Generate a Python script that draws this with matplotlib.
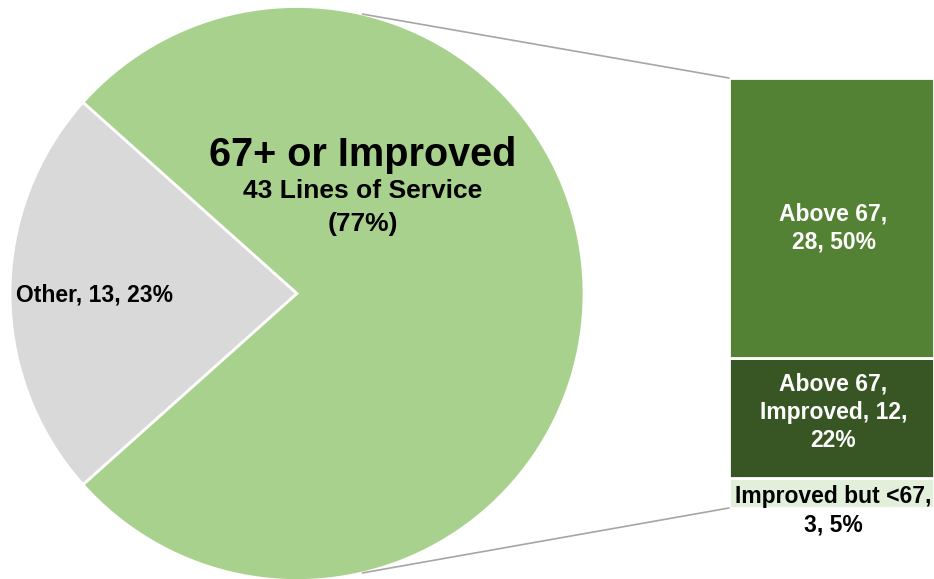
import matplotlib
matplotlib.use("Agg")
import matplotlib.pyplot as plt
from matplotlib.patches import ConnectionPatch
import numpy as np

plt.rcParams['font.family'] = ['Liberation Sans', 'DejaVu Sans']
plt.rcParams['font.weight'] = 'bold'

# pie data
pie_labels = ['Other', '67+ or Improved']
pie_values = [13, 43]
pie_colors = ['#D9D9D9', '#A9D18E']

# bar (breakdown of 67+ or Improved), bottom to top
bar_labels = ['Improved but <67', 'Above 67,\nImproved', 'Above 67']
bar_values = [3, 12, 28]
bar_pcts = [5, 22, 50]
bar_colors = ['#E2EFDA', '#375623', '#548235']
bar_text_colors = ['black', 'white', 'white']
# label templates ({n}=name, {v}=value, {p}=percent)
bar_fmt = ['{n},\n{v}, {p}%', '{n}, {v},\n{p}%', '{n},\n{v}, {p}%']

W, H = 934, 579
fig = plt.figure(figsize=(W / 100, H / 100), dpi=100)

# pie axes in pixel-like coords
ax = fig.add_axes([0, 0, 1, 1])
cx, cy, r = 297, H - 293.5, 287
frac_other = pie_values[0] / sum(pie_values)
start = 180 - 180 * frac_other
ax.pie(pie_values, colors=pie_colors, startangle=start, center=(cx, cy), radius=r,
       wedgeprops=dict(edgecolor='white', linewidth=2))
ax.set_xlim(0, W)
ax.set_ylim(0, H)
ax.set_aspect('equal')
ax.axis('off')

total = sum(pie_values)
ax.text(16, H - 295, f"{pie_labels[0]}, {pie_values[0]}, {round(100 * pie_values[0] / total)}%",
        ha='left', va='center', fontsize=16.5, fontweight='bold')
ax.text(363, H - 155, pie_labels[1], ha='center', va='center', fontsize=28.5, fontweight='bold')
ax.text(363, H - 191, f"{pie_values[1]} Lines of Service", ha='center', va='center',
        fontsize=19, fontweight='bold')
ax.text(363, H - 224, f"({round(100 * pie_values[1] / total)}%)", ha='center', va='center',
        fontsize=19, fontweight='bold')

# bar axes
bx0, bx1, by_top, by_bot = 729, 934, 78, 508
ax2 = fig.add_axes([bx0 / W, (H - by_bot) / H, (bx1 - bx0) / W, (by_bot - by_top) / H])
bottom = 0
offsets = [6, 4, -7]
for lab, v, p, c, tc, fmt, off in zip(bar_labels, bar_values, bar_pcts, bar_colors,
                                      bar_text_colors, bar_fmt, offsets):
    ax2.bar(0, v, bottom=bottom, width=1, color=c, edgecolor='white', linewidth=2)
    va = 'top' if v < 5 else 'center'
    ax2.annotate(fmt.format(n=lab, v=v, p=p),
                 xy=(0.01, bottom + v / 2), xytext=(0, off), textcoords='offset points',
                 ha='center', va=va, color=tc, fontsize=16.5, fontweight='bold',
                 linespacing=1.3, annotation_clip=False)
    bottom += v
ax2.set_xlim(-0.5, 0.5)
ax2.set_ylim(0, sum(bar_values))
ax2.axis('off')

# connection lines
theta = np.deg2rad(76.8)
for sgn, yb in [(1, sum(bar_values)), (-1, 0)]:
    p = (cx + r * np.cos(theta), cy + sgn * r * np.sin(theta))
    con = ConnectionPatch(xyA=p, coordsA=ax.transData, xyB=(-0.5, yb), coordsB=ax2.transData,
                          color='#A6A6A6', linewidth=1.2)
    fig.add_artist(con)

fig.savefig('out.png', dpi=100)
